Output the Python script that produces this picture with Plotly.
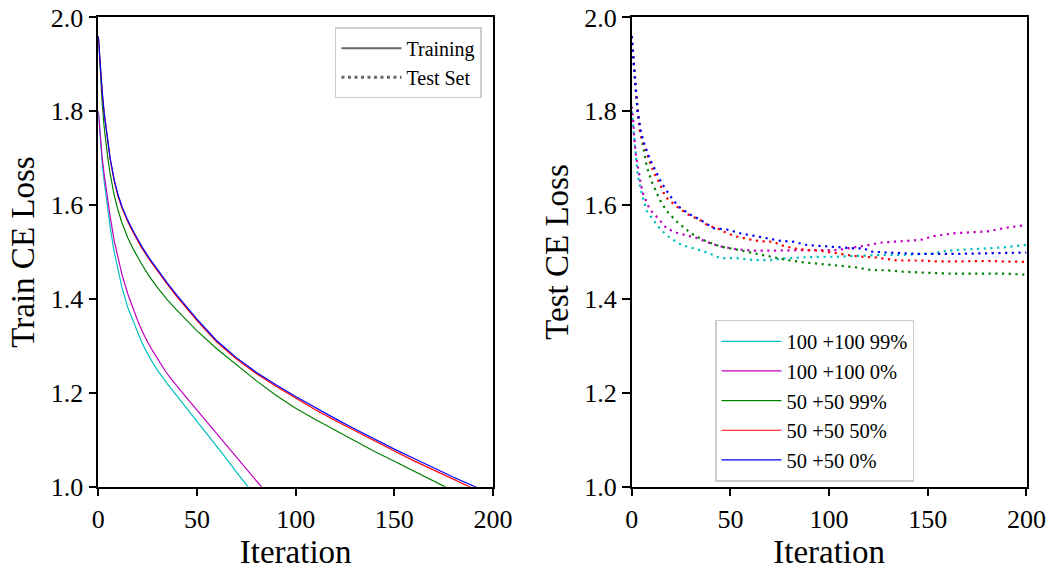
import plotly.graph_objects as go

# ---------------- data ----------------
series_names = ["100 +100 99%", "100 +100 0%", "50 +50 99%", "50 +50 50%", "50 +50 0%"]
series_colors = ["#00BFBF", "#BF00BF", "#008000", "#FF0000", "#0000FF"]

# Training loss
train_c_x = [0, 1, 2, 3, 4, 5, 6, 8, 10, 12, 15, 18, 20, 22, 24, 26, 28, 30, 32, 35, 38, 42, 46, 50, 55, 60,
             65, 70, 76]
train_c_y = [1.80, 1.735, 1.688, 1.650, 1.615, 1.582, 1.553, 1.501, 1.459, 1.424, 1.381, 1.348, 1.327, 1.308,
             1.291, 1.275, 1.261, 1.248, 1.236, 1.219, 1.203, 1.182, 1.161, 1.140, 1.113, 1.086, 1.059, 1.031,
             0.999]

train_m_x = [0, 1, 2, 3, 4, 5, 6, 8, 10, 12, 15, 18, 20, 22, 24, 27, 30, 34, 37, 40, 45, 50, 55, 60, 65, 70,
             75, 80, 83]
train_m_y = [1.80, 1.745, 1.700, 1.665, 1.633, 1.603, 1.576, 1.525, 1.485, 1.452, 1.410, 1.375, 1.353, 1.334,
             1.316, 1.293, 1.272, 1.246, 1.229, 1.213, 1.188, 1.163, 1.138, 1.113, 1.088, 1.063, 1.038, 1.013,
             0.998]

train_g_x = [0, 1, 2, 3, 4, 5, 6, 8, 10, 12, 15, 18, 22, 26, 30, 35, 40, 45, 50, 60, 70, 80, 90, 100, 110, 120,
             130, 140, 150, 160, 170, 176]
train_g_y = [1.96, 1.88, 1.815, 1.765, 1.727, 1.695, 1.667, 1.622, 1.589, 1.562, 1.530, 1.504, 1.474, 1.447,
             1.424, 1.398, 1.375, 1.353, 1.332, 1.294, 1.259, 1.226, 1.195, 1.167, 1.143, 1.120, 1.097, 1.075,
             1.054, 1.033, 1.012, 0.999]

train_r_x = [0, 1, 2, 3, 4, 5, 6, 8, 10, 12, 15, 18, 22, 26, 30, 35, 40, 45, 50, 60, 70, 80, 90, 100, 110, 120,
             130, 140, 150, 160, 170, 180, 189]
train_r_y = [1.96, 1.895, 1.84, 1.795, 1.759, 1.727, 1.698, 1.653, 1.619, 1.594, 1.564, 1.539, 1.509, 1.483,
             1.459, 1.431, 1.404, 1.378, 1.354, 1.308, 1.272, 1.241, 1.214, 1.189, 1.164, 1.141, 1.119, 1.097,
             1.076, 1.055, 1.035, 1.015, 0.998]

train_b_x = [0, 1, 2, 3, 4, 5, 6, 8, 10, 12, 15, 18, 22, 26, 30, 35, 40, 45, 50, 60, 70, 80, 90, 100, 110, 120,
             130, 140, 150, 160, 170, 180, 192]
train_b_y = [1.96, 1.895, 1.84, 1.795, 1.76, 1.728, 1.70, 1.655, 1.622, 1.597, 1.567, 1.542, 1.512, 1.486,
             1.462, 1.434, 1.407, 1.381, 1.357, 1.311, 1.275, 1.244, 1.217, 1.192, 1.168, 1.145, 1.123, 1.101,
             1.080, 1.060, 1.040, 1.020, 0.998]

# Test loss
test_c_x = [0, 1, 2, 3, 4.6, 5.9, 7.6, 10.1, 14.4, 19.4, 25.4, 33, 38.9, 44.8, 53.3, 61.7, 70.2, 78.7, 87.1, 95.6,
            104, 112.5, 121, 129.4, 137.9, 146.3, 153.1, 156.5, 163.3, 171.7, 180.2, 188.6, 198.8, 200]
test_c_y = [1.80, 1.75, 1.70, 1.665, 1.633, 1.615, 1.588, 1.573, 1.549, 1.530, 1.515, 1.506, 1.498, 1.487, 1.487, 1.483,
            1.483, 1.487, 1.489, 1.490, 1.490, 1.492, 1.493, 1.494, 1.494, 1.496, 1.496, 1.501, 1.504, 1.506, 1.508,
            1.510, 1.515, 1.514]

test_m_x = [0, 0.8, 1.2, 2.2, 3.4, 4.5, 5.9, 7.9, 9.3, 12.3, 14.4, 17.8, 22.8, 27.9, 33, 39.7, 44.8, 53.3, 61.7,
            70.2, 78.7, 87.1, 95.6, 104, 112.5, 119, 126, 137.9, 146.3, 153.1, 163.3, 171.7, 180.2, 188.6, 198.8, 200]
test_m_y = [1.81, 1.78, 1.75, 1.704, 1.676, 1.647, 1.622, 1.604, 1.590, 1.577, 1.567, 1.550, 1.541, 1.535, 1.530,
            1.519, 1.512, 1.506, 1.503, 1.503, 1.504, 1.504, 1.504, 1.504, 1.510, 1.514, 1.520, 1.524, 1.526, 1.534,
            1.540, 1.542, 1.544, 1.551, 1.557, 1.556]

test_g_x = [0, 1, 2, 3, 4.5, 5.9, 7.6, 10.1, 11.8, 14.4, 17.8, 22.8, 27.9, 31.3, 38.1, 44.8, 53.3, 61.7, 70.2,
            78.7, 87.1, 95.6, 104, 112.5, 121, 129.4, 137.9, 146.3, 154.8, 163.3, 171.7, 180.2, 188.6, 198.8, 200]
test_g_y = [1.96, 1.90, 1.846, 1.80, 1.755, 1.725, 1.683, 1.650, 1.633, 1.610, 1.587, 1.565, 1.547, 1.537, 1.522,
            1.512, 1.505, 1.498, 1.490, 1.483, 1.478, 1.475, 1.471, 1.468, 1.462, 1.461, 1.458, 1.456, 1.455, 1.454,
            1.454, 1.455, 1.454, 1.452, 1.451]

test_r_x = [0, 1, 2, 3, 4.2, 7.6, 11, 14.4, 17, 20.3, 24, 28.7, 35.5, 38.1, 44.8, 48.2, 53.3, 58.4, 65.1, 71.9,
            75.3, 82, 88.8, 95.6, 102.4, 109.1, 115.9, 122.7, 129.4, 134.5, 146.3, 154.8, 163.3, 171.7, 180.2,
            188.6, 198.8, 200]
test_r_y = [1.96, 1.90, 1.846, 1.804, 1.754, 1.711, 1.672, 1.644, 1.618, 1.606, 1.593, 1.580, 1.566, 1.558, 1.548,
            1.540, 1.533, 1.528, 1.523, 1.522, 1.515, 1.508, 1.504, 1.503, 1.498, 1.494, 1.490, 1.489, 1.485, 1.482,
            1.482, 1.480, 1.480, 1.481, 1.481, 1.480, 1.479, 1.479]

test_b_x = [0, 1, 2, 3, 4.5, 6, 9.3, 12, 15, 19.4, 23.7, 29.6, 34.7, 41.4, 48.2, 55, 61.7, 68.5, 75.3, 82, 88.8,
            95.6, 104, 112.5, 117.6, 121, 129.4, 137.9, 146.3, 163.3, 180.2, 188.6, 198.8, 200]
test_b_y = [1.96, 1.90, 1.845, 1.80, 1.76, 1.735, 1.697, 1.675, 1.648, 1.620, 1.597, 1.580, 1.569, 1.551, 1.548,
            1.540, 1.535, 1.530, 1.524, 1.522, 1.515, 1.513, 1.510, 1.508, 1.508, 1.501, 1.499, 1.497, 1.496, 1.496,
            1.497, 1.497, 1.499, 1.499]

train_x = [train_c_x, train_m_x, train_g_x, train_r_x, train_b_x]
train_y = [train_c_y, train_m_y, train_g_y, train_r_y, train_b_y]
test_x = [test_c_x, test_m_x, test_g_x, test_r_x, test_b_x]
test_y = [test_c_y, test_m_y, test_g_y, test_r_y, test_b_y]

x_ticks = [0, 50, 100, 150, 200]
y_ticks = [1.0, 1.2, 1.4, 1.6, 1.8, 2.0]
style_names = ["Training", "Test Set"]

FONT = "Liberation Serif"

fig = go.Figure()

for i in range(5):
    fig.add_trace(go.Scatter(
        x=train_x[i], y=train_y[i], mode="lines", xaxis="x", yaxis="y",
        line=dict(color=series_colors[i], width=1.2),
        showlegend=False, hoverinfo="skip"))
for i in range(5):
    fig.add_trace(go.Scatter(
        x=test_x[i], y=test_y[i], mode="lines", xaxis="x2", yaxis="y2",
        line=dict(color=series_colors[i], width=2.2, dash="2.2px,4.5px"), showlegend=False, hoverinfo="skip"))

# legend on left panel (style legend)
fig.add_trace(go.Scatter(x=[None], y=[None], mode="lines", xaxis="x", yaxis="y", name=style_names[0],
                         line=dict(color="#666666", width=2), legend="legend", legendgroup="s0"))
fig.add_trace(go.Scatter(x=[None], y=[None], mode="lines", xaxis="x", yaxis="y", name=style_names[1],
                         line=dict(color="#666666", width=3, dash="3px,3.5px"), legend="legend", legendgroup="s1"))
# legend on right panel (series legend)
for i in range(5):
    fig.add_trace(go.Scatter(x=[None], y=[None], mode="lines", xaxis="x2", yaxis="y2", name=series_names[i],
                             line=dict(color=series_colors[i], width=1.2), legend="legend2",
                             legendgroup="g%d" % i))

axis_common = dict(
    showline=True, linecolor="black", linewidth=1.5, mirror=True,
    ticks="outside", ticklen=8, tickwidth=1.5, tickcolor="black",
    showgrid=False, zeroline=False,
    tickfont=dict(family=FONT, size=26, color="black"),
    ticklabeloverflow="allow",
    automargin=False,
)

fig.update_layout(
    width=1056, height=570,
    margin=dict(l=0, r=0, t=0, b=0),
    paper_bgcolor="white", plot_bgcolor="white",
    font=dict(family=FONT, color="black"),
    xaxis=dict(domain=[0.0931, 0.4669], range=[0, 200.02], tickvals=x_ticks, anchor="y",
               title=dict(text="Iteration", font=dict(family=FONT, size=33), standoff=6), **axis_common),
    yaxis=dict(domain=[0.1461, 0.9696], range=[0.9999, 2.0002], tickvals=y_ticks, tickformat=".1f", anchor="x",
               title=dict(text="Train CE Loss", font=dict(family=FONT, size=33), standoff=6), **axis_common),
    xaxis2=dict(domain=[0.5982, 0.9721], range=[0, 200.02], tickvals=x_ticks, anchor="y2",
                title=dict(text="Iteration", font=dict(family=FONT, size=33), standoff=6), **axis_common),
    yaxis2=dict(domain=[0.1461, 0.9696], range=[0.9999, 2.0002], tickvals=y_ticks, tickformat=".1f", anchor="x2",
                title=dict(text="Test CE Loss", font=dict(family=FONT, size=33), standoff=6), **axis_common),
    legend=dict(x=0.4564, y=0.9521, xanchor="right", yanchor="top",
                bgcolor="rgba(255,255,255,0.8)", bordercolor="#cccccc", borderwidth=1.5,
                font=dict(family=FONT, size=20, color="black"), tracegroupgap=0, itemwidth=60),
    legend2=dict(x=0.6771, y=0.4386, xanchor="left", yanchor="top",
                 bgcolor="rgba(255,255,255,0.8)", bordercolor="#cccccc", borderwidth=1.5,
                 font=dict(family=FONT, size=20.5, color="black"), tracegroupgap=0, itemwidth=60),
)

# remove the default 8px page margin so the 1056x570 figure fills the window exactly
fig.write_html("out.html", config={"displayModeBar": False},
               post_script="document.body.style.margin='0';")
